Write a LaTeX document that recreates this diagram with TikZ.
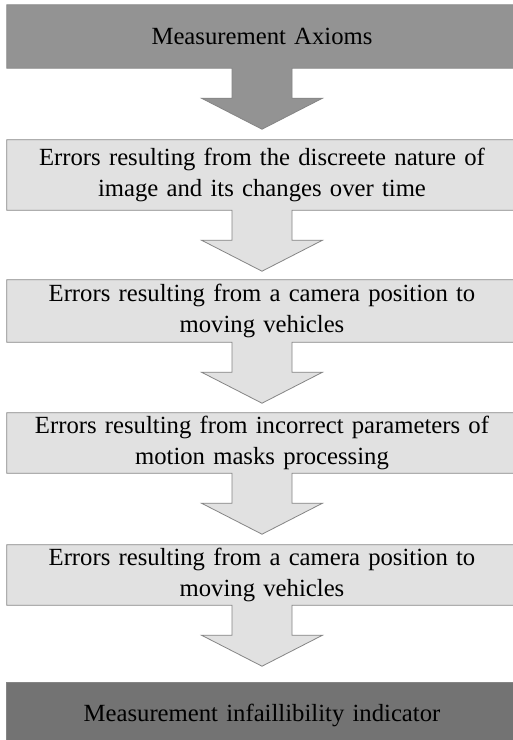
\documentclass[tikz,border=0pt]{standalone}
\usepackage{fontspec}
\setmainfont{Liberation Serif}
\usetikzlibrary{positioning, calc, backgrounds}
\definecolor{axiomgray}{HTML}{939393}
\definecolor{errorgray}{HTML}{E1E1E1}
\definecolor{resultgray}{HTML}{737373}
\definecolor{edgegray}{HTML}{858585}
\tikzset{stage/.style={minimum width=510pt, text width=500pt, inner sep=0pt, align=center,
                       font=\fontsize{24.7}{31}\selectfont},
         outline/.style={draw=edgegray, line width=0.8pt, line join=miter},
        }
% box with a down arrow hanging from its bottom edge
\newcommand{\calloutbox}[2]{%
  \path[outline, fill=#2] (#1.north west) -- (#1.north east) -- (#1.south east)
    -- ($(#1.south)+(30,0)$) -- ++(0,30) -- ++(30.5,0) -- ($(#1.south)+(0,61)$)
    -- ($(#1.south)+(-60.5,30)$) -- ++(30.5,0) -- ($(#1.south)+(-30,0)$)
    -- (#1.south west) -- cycle;}

\begin{document}
\begin{tikzpicture}[x=1pt,y=-1pt]
        \clip (0,0) rectangle (513,740);
        \node[stage,minimum height=63pt](axioms)at(262,36.5){Measurement Axioms};
        \node[stage,minimum height=70pt](err1)at(262,175){Errors resulting from the discreete nature of\\image and its changes over time};
        \node[stage,minimum height=62pt](err2)at(262,311){Errors resulting from a camera position to\\moving vehicles};
        \node[stage,minimum height=60pt](err3)at(262,443){Errors resulting from incorrect parameters of\\motion masks processing};
        \node[stage,minimum height=60pt](err4)at(262,575){Errors resulting from a camera position to\\moving vehicles};
        \node[stage,minimum height=64pt](result)at(262,715){Measurement infaillibility indicator};
        \begin{scope}[on background layer]
        \fill[white] (0,0) rectangle (513,740);
        \calloutbox{axioms}{axiomgray}
        \calloutbox{err1}{errorgray}
        \calloutbox{err2}{errorgray}
        \calloutbox{err3}{errorgray}
        \calloutbox{err4}{errorgray}
        \path[outline,fill=resultgray](result.north west)rectangle(result.south east);
        \end{scope}
    \end{tikzpicture}
\end{document}
